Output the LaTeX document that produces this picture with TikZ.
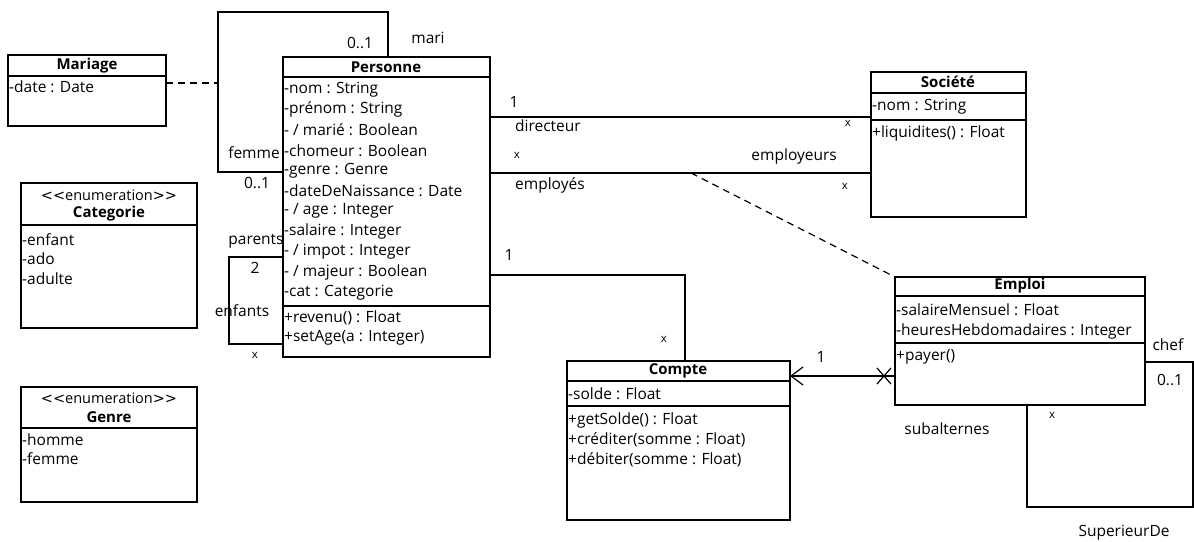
\documentclass[tikz,border=0pt]{standalone}
\usepackage{fontspec}
\setmainfont{Open Sans}
\newfontfamily\guilfont{DejaVu Sans}
\usetikzlibrary{arrows.meta}

\newcommand{\stereotype}[1]{{\guilfont<{}<}#1{\guilfont>{}>}}

\begin{document}
\begin{tikzpicture}[x=1pt, y=-1pt,
  classbox/.style={draw, line width=1.2pt, anchor=north west, inner sep=0pt, outer sep=0pt},
  attr/.style={anchor=west, inner sep=1pt, font=\fontsize{15.5}{17}\selectfont},
  ctitle/.style={inner sep=1pt, font=\fontsize{15}{17}\selectfont\bfseries},
  stereo/.style={inner sep=1pt, font=\fontsize{14.5}{16}\selectfont},
  lbl/.style={inner sep=1pt, font=\fontsize{15.5}{17}\selectfont},
  multx/.style={inner sep=1pt, font=\fontsize{11.5}{13}\selectfont},
  assoc/.style={line width=1.2pt}]
\useasboundingbox (0,0) rectangle (1194,541);

% Mariage
\node[classbox, minimum width=158pt, minimum height=71pt] (mariage) at (8,55) {};
\draw[assoc] (mariage.west |- 0,76) -- (mariage.east |- 0,76);
\node[ctitle] (mariage-t) at (87,65.5) {Mariage};
\node[attr] (mariage-a1) at (8,87) {-date : Date};

% Personne
\node[classbox, minimum width=207pt, minimum height=300pt] (personne) at (283,57) {};
\draw[assoc] (personne.west |- 0,77) -- (personne.east |- 0,77);
\draw[assoc] (personne.west |- 0,306) -- (personne.east |- 0,306);
\node[ctitle] (personne-t) at (386,67) {Personne};
\foreach \txt [count=\i] in {-nom : String, -prénom : String, - / marié : Boolean,
    -chomeur : Boolean, -genre : Genre, -dateDeNaissance : Date, - / age : Integer,
    -salaire : Integer, - / impot : Integer, - / majeur : Boolean, -cat : Categorie} {
  \node[attr] (personne-a\i) at (283,69.2+20.3*\i) {\txt};
}
\foreach \txt [count=\i] in {+revenu() : Float, +setAge(a : Integer)} {
  \node[attr] (personne-m\i) at (283,297.7+20.3*\i) {\txt};
}

% Societe
\node[classbox, minimum width=155pt, minimum height=145pt] (societe) at (871,72) {};
\draw[assoc] (societe.west |- 0,93) -- (societe.east |- 0,93);
\draw[assoc] (societe.west |- 0,120) -- (societe.east |- 0,120);
\node[ctitle] (societe-t) at (948,82) {Société};
\node[attr] (societe-a1) at (871,107) {-nom : String};
\node[attr] (societe-m1) at (871,133) {+liquidites() : Float};

% Emploi
\node[classbox, minimum width=250pt, minimum height=128pt] (emploi) at (895,277) {};
\draw[assoc] (emploi.west |- 0,296) -- (emploi.east |- 0,296);
\draw[assoc] (emploi.west |- 0,343) -- (emploi.east |- 0,343);
\node[ctitle] (emploi-t) at (1020,286) {Emploi};
\node[attr] (emploi-a1) at (895,310) {-salaireMensuel : Float};
\node[attr] (emploi-a2) at (895,331) {-heuresHebdomadaires : Integer};
\node[attr] (emploi-m1) at (895,357) {+payer()};

% Compte
\node[classbox, minimum width=223pt, minimum height=159pt] (compte) at (567,361) {};
\draw[assoc] (compte.west |- 0,381) -- (compte.east |- 0,381);
\draw[assoc] (compte.west |- 0,406) -- (compte.east |- 0,406);
\node[ctitle] (compte-t) at (678,371) {Compte};
\node[attr] (compte-a1) at (567,394) {-solde : Float};
\foreach \txt [count=\i] in {+getSolde() : Float, +créditer(somme : Float), +débiter(somme : Float)} {
  \node[attr] (compte-m\i) at (567,400.3+19.7*\i) {\txt};
}

% Categorie
\node[classbox, minimum width=176pt, minimum height=145pt] (categorie) at (21,183) {};
\draw[assoc] (categorie.west |- 0,225) -- (categorie.east |- 0,225);
\node[stereo] (categorie-s) at (109,195) {\stereotype{enumeration}};
\node[ctitle] (categorie-t) at (109,214) {Categorie};
\foreach \txt [count=\i] in {-enfant, -ado, -adulte} {
  \node[attr] (categorie-a\i) at (21,220.7+19.2*\i) {\txt};
}

% Genre
\node[classbox, minimum width=176pt, minimum height=115pt] (genre) at (21,387) {};
\draw[assoc] (genre.west |- 0,428) -- (genre.east |- 0,428);
\node[stereo] (genre-s) at (109,398) {\stereotype{enumeration}};
\node[ctitle] (genre-t) at (109,417) {Genre};
\foreach \txt [count=\i] in {-homme, -femme} {
  \node[attr] (genre-a\i) at (21,419.5+19.8*\i) {\txt};
}

% mari / femme
\draw[assoc] (personne.north -| 388,0) |- (218,12) |- (personne.west |- 0,172);
\coordinate (mariloop) at (218,83);
\draw[assoc, dash pattern=on 7pt off 5pt] (mariage.east |- 0,83) -- (mariloop);
\node[lbl] (mari-m) at (360,43) {0..1};
\node[lbl] (mari-r) at (428,38) {mari};
\node[lbl] (femme-r) at (254,153) {femme};
\node[lbl] (femme-m) at (257,183) {0..1};

% parents / enfants
\draw[assoc] (personne.west |- 0,257) -| (229,344) -- (personne.west |- 0,344);
\node[lbl] (parents-r) at (256,241) {parents};
\node[lbl] (parents-m) at (255,268) {2};
\node[lbl] (enfants-r) at (242,311) {enfants};
\node[multx] (enfants-m) at (255,355) {x};

% directeur / employes / employeurs
\draw[assoc] (personne.east |- 0,117) -- (societe.west |- 0,117);
\draw[assoc] (personne.east |- 0,173) -- (societe.west |- 0,173);
\node[lbl] (directeur-m) at (514,102) {1};
\node[lbl, anchor=west] (directeur-r) at (514,126) {directeur};
\node[multx] (employes-m) at (517,155) {x};
\node[lbl, anchor=west] (employes-r) at (514,185) {employés};
\node[lbl, anchor=east] (employeurs-r) at (838,156) {employeurs};
\node[multx] (dirsoc-m) at (848,123) {x};
\node[multx] (employeurs-m) at (845,186) {x};

% classe d'association
\coordinate (emplois) at (691,173);
\draw[assoc, dash pattern=on 7pt off 5pt] (emplois) -- (emploi.north west);

% compte
\draw[assoc] (personne.east |- 0,275) -| (compte.north -| 685,0);
\node[lbl] (titulaire-m) at (509,255) {1};
\node[multx] (compte-mx) at (664,339) {x};

% emploi -> compte
\draw[assoc, -{Straight Barb[length=12pt, width=18pt]}] (emploi.west |- 0,376) -- (compte.east |- 0,376);
\coordinate (nonnav) at (884,376);
\draw[assoc] (nonnav) +(-7,-8) -- +(7,8) (nonnav) +(-7,8) -- +(7,-8);
\node[lbl] (paye-m) at (821,357) {1};

% chef / subalternes
\draw[assoc] (emploi.east |- 0,362) -- (1193,362) -- (1193,507) -| (emploi.south -| 1027,0);
\node[lbl] (chef-r) at (1168,345) {chef};
\node[lbl] (chef-m) at (1170,380) {0..1};
\node[multx] (subalternes-m) at (1052,415) {x};
\node[lbl] (subalternes-r) at (947,429) {subalternes};
\node[lbl] (superieur) at (1124,533) {SuperieurDe};
\end{tikzpicture}
\end{document}
